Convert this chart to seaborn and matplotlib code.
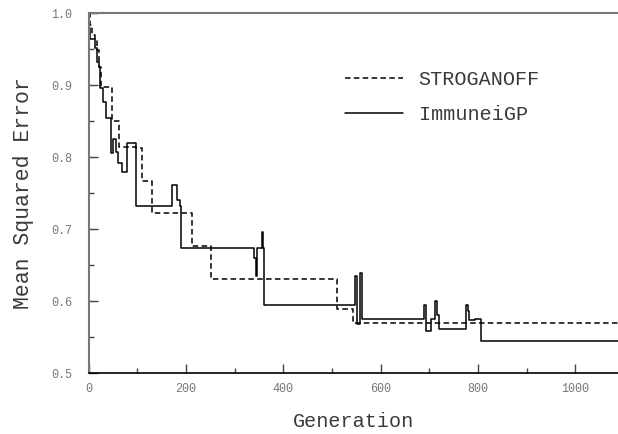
import numpy as np
import pandas as pd
import matplotlib
matplotlib.use("Agg")
import matplotlib.pyplot as plt
import seaborn as sns
from matplotlib.ticker import MultipleLocator, FixedLocator

# ---- data ----
series_names = ["STROGANOFF", "ImmuneiGP"]

strog_gen = [0, 3, 8, 13, 17, 21, 25, 26, 48, 62, 97, 109, 131, 213, 251, 510, 544, 1088]
strog_mse = [1.0, 0.984, 0.970, 0.963, 0.949, 0.926, 0.919, 0.897, 0.851, 0.815, 0.813,
             0.767, 0.722, 0.677, 0.631, 0.589, 0.570, 0.570]

immune_gen = [0, 2, 4, 14, 17, 21, 23, 29, 30, 36, 46, 51, 56, 60, 68, 79, 98, 172, 181, 188,
              191, 340, 344, 347, 356, 359, 361, 547, 551, 558, 561, 690, 694, 704, 713, 717,
              720, 775, 779, 782, 794, 806, 1088]
immune_mse = [1.0, 0.980, 0.964, 0.952, 0.933, 0.926, 0.896, 0.889, 0.877, 0.854, 0.806, 0.825,
              0.808, 0.792, 0.779, 0.820, 0.732, 0.761, 0.741, 0.732, 0.674, 0.660, 0.635, 0.674,
              0.696, 0.674, 0.595, 0.635, 0.569, 0.640, 0.575, 0.595, 0.559, 0.575, 0.600, 0.581,
              0.561, 0.595, 0.586, 0.574, 0.576, 0.545, 0.545]

x_ticks = [0, 200, 400, 600, 800, 1000]
y_ticks = [0.5, 0.6, 0.7, 0.8, 0.9, 1.0]
y_tick_labels = ["0.5", "0.6", "0.7", "0.8", "0.9", "1.0"]

df = pd.concat([
    pd.DataFrame({"Generation": strog_gen, "MSE": strog_mse, "Method": series_names[0]}),
    pd.DataFrame({"Generation": immune_gen, "MSE": immune_mse, "Method": series_names[1]}),
], ignore_index=True)

sns.set_theme(style="ticks")
plt.rcParams["font.family"] = ["Liberation Mono", "DejaVu Sans Mono"]

fig = plt.figure(figsize=(6.18, 4.34), dpi=100)
ax = fig.add_axes([88.5 / 618, 1 - 373.3 / 434, 1 - 88.5 / 618, (373.3 - 13.3) / 434])

sns.lineplot(data=df, x="Generation", y="MSE", hue="Method", style="Method",
             hue_order=series_names, style_order=series_names,
             palette={"STROGANOFF": "black", "ImmuneiGP": "black"},
             dashes={"STROGANOFF": (3.6, 2.2), "ImmuneiGP": ""},
             estimator=None, sort=False, drawstyle="steps-post",
             linewidth=1.1, ax=ax, legend=True)

ax.set_xlim(0, 1088)
ax.set_ylim(0.5, 1.0)

ax.xaxis.set_major_locator(FixedLocator(x_ticks))
ax.xaxis.set_minor_locator(MultipleLocator(100))
ax.yaxis.set_major_locator(FixedLocator(y_ticks))
ax.set_yticklabels(y_tick_labels)
ax.yaxis.set_minor_locator(MultipleLocator(0.05))

ax.tick_params(axis="both", which="major", direction="in", length=6.5, width=1.0,
               color="#444444", labelsize=8.5, labelcolor="#777777")
ax.tick_params(axis="both", which="minor", direction="in", length=3.5, width=1.0,
               color="#444444")
ax.tick_params(axis="y", which="major", pad=12)
ax.tick_params(axis="x", which="major", pad=7)

for side in ["top", "left"]:
    ax.spines[side].set_color("#777777")
    ax.spines[side].set_linewidth(1.5)
ax.spines["bottom"].set_color("black")
ax.spines["bottom"].set_linewidth(1.2)
ax.spines["right"].set_visible(False)

ax.set_xlabel("Generation", fontsize=14.5, color="#3a3a3a", labelpad=12)
ax.set_ylabel("Mean Squared Error", fontsize=15.5, color="#3a3a3a", labelpad=12)

handles, labels = ax.get_legend_handles_labels()
ax.legend(handles, labels, loc="upper left", bbox_to_anchor=(345 / 618, 1 - 70 / 434),
          bbox_transform=fig.transFigure, frameon=False, fontsize=14.5,
          handlelength=2.9, handletextpad=0.75, labelspacing=0.8,
          borderpad=0, borderaxespad=0, labelcolor="#3a3a3a")

fig.savefig("out.png", dpi=100)
